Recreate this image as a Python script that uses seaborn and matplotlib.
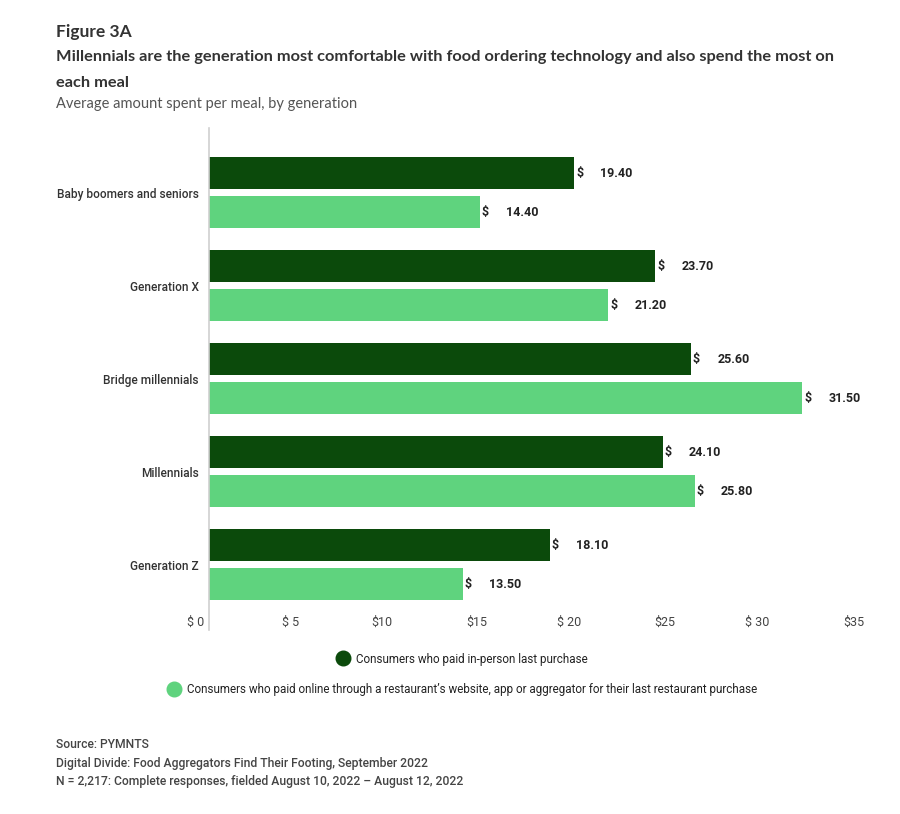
import matplotlib
matplotlib.use("Agg")
import matplotlib.pyplot as plt
from matplotlib.lines import Line2D
import matplotlib.transforms as mtransforms
import seaborn as sns
import pandas as pd

categories = ["Baby boomers and seniors", "Generation X", "Bridge millennials",
              "Millennials", "Generation Z"]
in_person = [19.40, 23.70, 25.60, 24.10, 18.10]
online = [14.40, 21.20, 31.50, 25.80, 13.50]
series_names = ["Consumers who paid in-person last purchase",
                "Consumers who paid online through a restaurant\u2019s website, app or aggregator for their last restaurant purchase"]
tick_values = [0, 5, 10, 15, 20, 25, 30, 35]
tick_labels = ["$ 0", "$ 5", "$10", "$15", "$ 20", "$25", "$ 30", "$35"]
colors = ["#0b4a0b", "#5fd37e"]

df = pd.DataFrame({
    "category": categories * 2,
    "value": in_person + online,
    "series": [series_names[0]] * len(categories) + [series_names[1]] * len(categories),
})

sns.set_theme(style="white")
plt.rcParams["font.family"] = ["Roboto", "DejaVu Sans"]

W, H = 900, 814
fig = plt.figure(figsize=(W / 100, H / 100), dpi=100)
ax_left, ax_right, ax_top, ax_bot = 208.5, 868, 128, 630
ax = fig.add_axes([ax_left / W, 1 - ax_bot / H, (ax_right - ax_left) / W, (ax_bot - ax_top) / H])

sns.barplot(data=df, y="category", x="value", hue="series", order=categories,
            hue_order=series_names, palette=colors, orient="y",
            width=0.84, gap=0.18, saturation=1, legend=False, ax=ax, linewidth=0)

ax.set_xlim(0, 35)
ax.set_ylim(4.70, -0.694)
ax.set_xticks(tick_values)
ax.set_xticklabels(tick_labels, ha="right")
ax.tick_params(axis="x", length=0, pad=-10, labelsize=9, labelcolor="#444444")
ax.tick_params(axis="y", length=0, pad=7, labelsize=8.6, labelcolor="#333333")
shift = mtransforms.ScaledTranslation(-4 / 100, 0, fig.dpi_scale_trans)
for lab in ax.get_xticklabels():
    lab.set_transform(lab.get_transform() + shift)
for lab in ax.get_yticklabels():
    lab.set_fontweight("medium")
ax.set_xlabel("")
ax.set_ylabel("")
for s in ["top", "right", "bottom"]:
    ax.spines[s].set_visible(False)
ax.spines["left"].set_color("#d0d0d0")
ax.spines["left"].set_linewidth(1.2)

# value labels
for container, vals in zip(ax.containers, [in_person, online]):
    for bar, v in zip(container, vals):
        yc = bar.get_y() + bar.get_height() / 2
        x_end = bar.get_width()
        ax.annotate("$", (x_end, yc), xytext=(1.5, 0), textcoords="offset points",
                    ha="left", va="center", fontsize=9, fontweight="bold", color="#222222")
        ax.annotate(f"{v:.2f}", (x_end, yc), xytext=(19, 0), textcoords="offset points",
                    ha="left", va="center", fontsize=9, fontweight="bold", color="#222222")

# legends (each row centered separately)
for i, (name, col, yy) in enumerate(zip(series_names, colors, [659, 690])):
    handle = Line2D([], [], marker="o", linestyle="none", markersize=10.5,
                    markerfacecolor=col, markeredgecolor=col)
    fig.legend([handle], [name], loc="center", bbox_to_anchor=(462 / W, 1 - yy / H),
               frameon=False, fontsize=8.4, handletextpad=0.5, borderpad=0,
               handlelength=1.2, labelcolor="#222222")

# titles
title_font = ["Lato", "DejaVu Sans"]
fig.text(56 / W, 1 - 32 / H, "Figure 3A", family=title_font, fontweight="bold",
         fontsize=12.5, color="#333333", va="center", ha="left")
fig.text(56 / W, 1 - 57 / H,
         "Millennials are the generation most comfortable with food ordering technology and also spend the most on",
         family=title_font, fontweight="bold", fontsize=11.8, color="#333333", va="center", ha="left")
fig.text(56 / W, 1 - 83 / H, "each meal", family=title_font, fontweight="bold",
         fontsize=11.8, color="#333333", va="center", ha="left")
fig.text(56 / W, 1 - 104 / H, "Average amount spent per meal, by generation", family=title_font,
         fontsize=10.5, color="#555555", va="center", ha="left")

# footer
footer = ["Source: PYMNTS",
          "Digital Divide: Food Aggregators Find Their Footing, September 2022",
          "N = 2,217: Complete responses, fielded August 10, 2022 \u2013 August 12, 2022"]
for t, yy in zip(footer, [745, 763, 781]):
    fig.text(56 / W, 1 - yy / H, t, fontsize=8.7, fontweight="medium", color="#444444",
             va="center", ha="left")

fig.savefig("out.png", dpi=100, facecolor="white")
